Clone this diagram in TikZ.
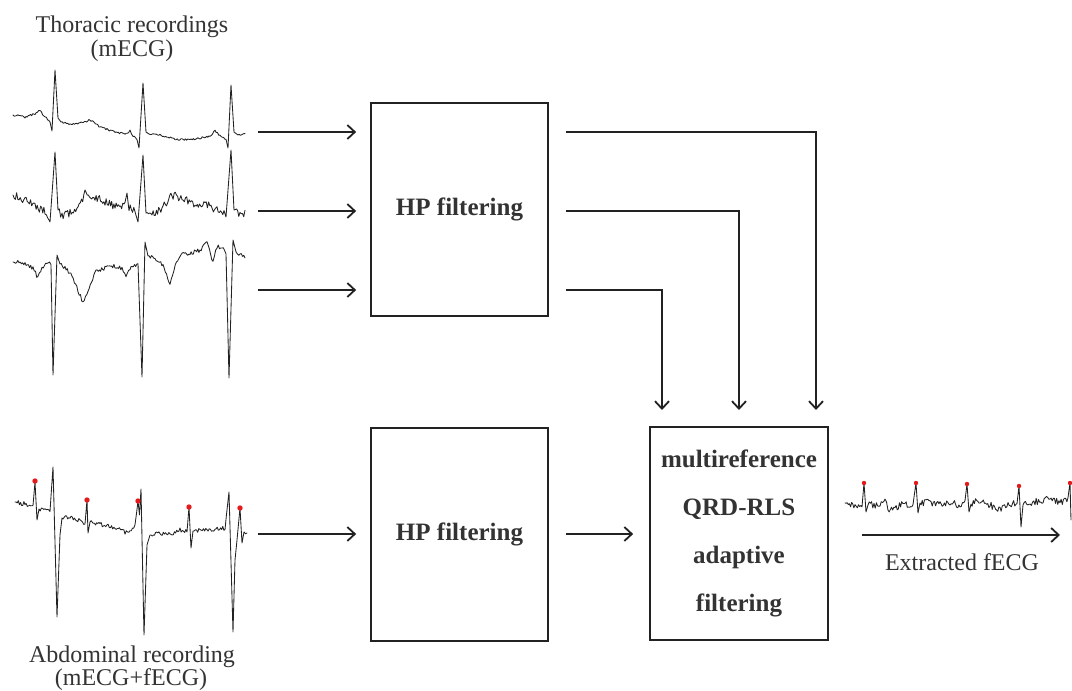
\documentclass[tikz,border=0pt]{standalone}
\usepackage{fontspec}
\setmainfont{Liberation Serif}
\usetikzlibrary{arrows.meta}
\definecolor{lineC}{HTML}{222222}
\definecolor{textC}{HTML}{333333}
\definecolor{dotC}{HTML}{E41A1C}
% #1,#2 start point, #3 noise amplitude, #4 list x/y/noisy-flag
\newcommand\sigpath[4]{%
  \gdef\sigacc{}%
  \foreach \sx/\sy/\sa [remember=\sx as \px (initially #1), remember=\sy as \py (initially #2)] in {#4} {%
    \pgfmathtruncatemacro\nsteps{max(1,(\sx-\px)/1.1)}%
    \foreach \k in {1,...,\nsteps} {%
      \pgfmathsetmacro\sxx{\px+\k*(\sx-\px)/\nsteps}%
      \pgfmathsetmacro\syy{\py+\k*(\sy-\py)/\nsteps+\sa*#3*rand}%
      \xdef\sigacc{\sigacc -- (\sxx,\syy)}%
    }%
  }%
  \draw[sig] (#1,#2) \sigacc;}
\begin{document}
\begin{tikzpicture}[x=1pt,y=-1pt,
  sig/.style={line width=0.85pt, draw=lineC, line join=round, line cap=round},
  boxnode/.style={draw=lineC, line width=1.7pt, minimum width=177pt, minimum height=213pt,
    inner sep=0pt, text=textC, font=\fontsize{25}{48}\selectfont\bfseries, align=center},
  lbl/.style={text=textC, font=\fontsize{24}{24}\selectfont, inner sep=0pt, anchor=base},
  arr/.style={draw=lineC, line width=1.8pt, -{Straight Barb[length=7.5pt,width=14pt]}},
  dot/.style={fill=dotC}
]
\pgfmathsetseed{4217}
\fill[white] (0,0) rectangle (1072,691);
\useasboundingbox (0,0) rectangle (1072,691);

% labels
\node[lbl] (lt1) at (132,32) {Thoracic recordings};
\node[lbl] (lt2) at (132,56) {(mECG)};
\node[lbl] (la1) at (132,662) {Abdominal recording};
\node[lbl] (la2) at (131,685) {(mECG+fECG)};
\node[lbl] (lx) at (962,570) {Extracted fECG};

% boxes
\node[boxnode] (hp1) at (459.5,209.5) {HP filtering};
\node[boxnode] (hp2) at (459.5,534.5) {HP filtering};
\node[boxnode, minimum width=178pt] (aq) at (739,533.5) {multireference\\QRD-RLS\\adaptive\\filtering};

% thoracic signal 1
\sigpath{13}{115}{1.0}{25/117/1, 35/114/1, 40/110/1, 44/116/1, 50/121/1, 52/131/0, 55/70/0, 58/118/0, 61/122/0, 70/124/1, 80/123/1, 90/120/1, 100/127/1, 115/132/1, 125/134/1, 130/131/1, 133/136/1, 137/139/1, 139/148/0, 143/83/0, 146/132/0, 149/134/0, 160/135/1, 175/139/1, 190/140/1, 200/138/1, 210/136/1, 215/131/1, 220/136/1, 226/140/1, 228/148/0, 231/85/0, 234/132/0, 238/135/0, 245/134/1}

% thoracic signal 2
\sigpath{13}{195}{4.0}{25/200/1, 35/205/1, 45/212/1, 49/218/1, 50/222/0, 55/152/0, 58/210/0, 62/215/1, 70/213/1, 78/208/1, 85/193/1, 95/197/1, 105/202/1, 115/207/1, 125/204/1, 127/197/1, 129/208/1, 135/212/1, 138/222/0, 143/155/0, 146/213/0, 152/215/1, 162/208/1, 172/195/1, 182/198/1, 195/205/1, 205/203/1, 217/210/1, 224/212/1, 226/217/0, 231/150/0, 234/210/0, 240/214/1, 245/213/1}

% thoracic signal 3
\sigpath{13}{262}{2.2}{25/263/1, 33/268/1, 38/278/1, 42/268/1, 48/263/1, 51/265/1, 53/375/0, 57/255/0, 60/264/0, 65/268/1, 72/275/1, 78/290/1, 83/303/1, 88/290/1, 95/272/1, 105/268/1, 115/266/1, 122/269/1, 126/277/1, 130/268/1, 138/264/1, 142/377/0, 145/242/0, 148/256/0, 155/258/1, 163/266/1, 170/283/1, 174/270/1, 180/255/1, 190/253/1, 200/250/1, 207/243/1, 213/262/1, 217/247/1, 222/248/1, 226/252/1, 229/378/0, 233/240/0, 236/252/0, 240/254/1, 245/258/1}

% abdominal signal
\sigpath{15}{502}{2.2}{25/504/1, 33/507/1, 35/482/0, 37/520/0, 39/509/0, 45/510/1, 50/511/1, 53/467/0, 57/617/0, 60/535/0, 62/518/0, 70/517/1, 80/521/1, 85/523/1, 87/500/0, 88/533/0, 90/522/0, 100/524/1, 115/528/1, 125/532/1, 130/530/1, 135/526/1, 138/501/0, 139.5/515/0, 141/489/0, 144/635/0, 147/545/0, 150/535/0, 160/533/1, 170/534/1, 180/530/1, 187/531/1, 189/507/0, 191/548/0, 193/531/0, 200/530/1, 215/529/1, 225/528/1, 229/492/0, 233/632/0, 235/560/0, 237/540/0, 240/508/0, 242/543/0, 244/532/0, 247/535/1}
\foreach \p in {(35,481),(87,500),(138,501),(189,507),(240,508)}
  \fill[dot] \p circle[radius=2.7pt];

% extracted fECG
\sigpath{845}{503}{3.4}{855/505/1, 862/506/1, 864/483/0, 866/512/0, 868/505/0, 880/505/1, 885/497/1, 888/510/1, 895/507/1, 905/504/1, 913/504/1, 916/483/0, 918/513/0, 920/503/0, 930/502/1, 940/505/1, 950/503/1, 960/505/1, 965/503/1, 967/484/0, 969/512/0, 971/504/0, 980/500/1, 990/505/1, 1000/510/1, 1008/504/1, 1017/503/1, 1019/486/0, 1021/527/0, 1023/505/0, 1035/502/1, 1050/498/1, 1060/502/1, 1068/500/1, 1070/483/0, 1071/520/0}
\foreach \p in {(864,483),(916,483),(967,484),(1019,486),(1070,483)}
  \fill[dot] \p circle[radius=2.2pt];

% connector end points
\coordinate (s1) at (258,132);
\coordinate (s2) at (258,211);
\coordinate (s3) at (258,290);
\coordinate (s4) at (258,534);
\coordinate (o1) at (566,132);
\coordinate (o2) at (566,211);
\coordinate (o3) at (566,290);
\coordinate (o4) at (566,534);
\coordinate (t1) at (816,410);
\coordinate (t2) at (739,410);
\coordinate (t3) at (662,410);
\coordinate (x1) at (862,535);
\coordinate (x2) at (1060,535);

\draw[arr, shorten >=14pt] (s1) -- (s1 -| hp1.west);
\draw[arr, shorten >=14pt] (s2) -- (s2 -| hp1.west);
\draw[arr, shorten >=14pt] (s3) -- (s3 -| hp1.west);
\draw[arr, shorten >=14pt] (s4) -- (s4 -| hp2.west);
\draw[arr] (o1) -| (t1);
\draw[arr] (o2) -| (t2);
\draw[arr] (o3) -| (t3);
\draw[arr, shorten >=16pt] (o4) -- (o4 -| aq.west);
\draw[arr] (x1) -- (x2);
\end{tikzpicture}
\end{document}
